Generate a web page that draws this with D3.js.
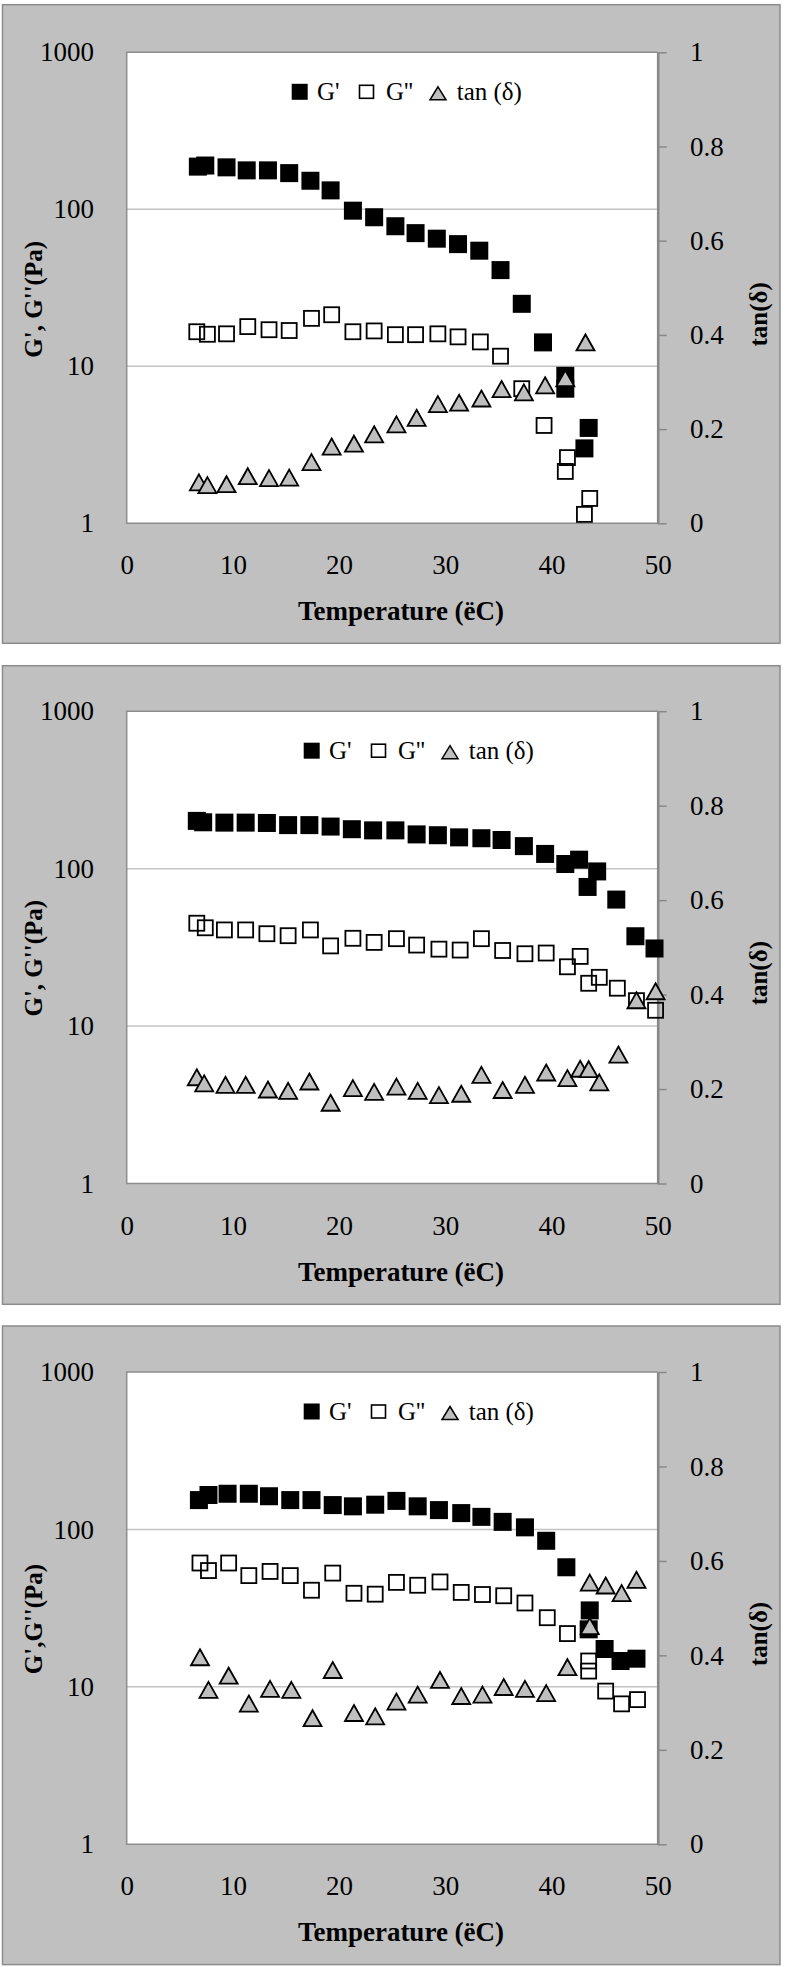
<!DOCTYPE html>
<html>
<head>
<meta charset="utf-8">
<script src="https://cdn.jsdelivr.net/npm/d3@7"></script>
<style>
  html, body { margin: 0; padding: 0; background: #ffffff; }
  svg { display: block; }
  text { font-family: "Liberation Serif", "Times New Roman", serif; fill: #000; }
</style>
</head>
<body>
<svg id="chart" width="786" height="1967"></svg>
<script>
// ---------------- DATA ----------------
const xTicks = [0, 10, 20, 30, 40, 50];
const yLeftTicks = [1, 10, 100, 1000];
const yRightTicks = [0, 0.2, 0.4, 0.6, 0.8, 1];
const legendLabels = ["G'", "G''", "tan (\u03b4)"];
const xTitle = "Temperature (\u00ebC)";
const yLeftTitles = ["G', G''(Pa)", "G', G''(Pa)", "G',G''(Pa)"];
const yRightTitle = "tan(\u03b4)";

// Panel 1
const p1GpT = [6.7, 7.4, 9.4, 11.3, 13.3, 15.3, 17.3, 19.2, 21.3, 23.3, 25.3, 27.2, 29.2, 31.2, 33.2, 35.2, 37.2, 39.2, 41.3, 41.3, 43.1, 43.5];
const p1Gp  = [187, 190, 185, 177, 177, 170, 152, 132, 98, 89, 78, 70.5, 65, 60, 54.5, 41, 25, 14.2, 8.7, 7.2, 3.0, 4.05];
const p1GppT = [6.6, 7.6, 9.4, 11.4, 13.4, 15.3, 17.4, 19.3, 21.3, 23.3, 25.3, 27.2, 29.3, 31.2, 33.3, 35.2, 37.2, 39.3, 41.3, 41.5, 43.1, 43.6];
const p1Gpp  = [16.6, 16.0, 16.1, 17.9, 17.1, 16.9, 20.2, 21.3, 16.6, 16.8, 15.9, 15.9, 16.1, 15.4, 14.3, 11.6, 7.2, 4.2, 2.14, 2.62, 1.14, 1.44];
const p1TanT = [6.8, 7.6, 9.4, 11.4, 13.4, 15.3, 17.4, 19.3, 21.4, 23.3, 25.4, 27.3, 29.3, 31.3, 33.4, 35.3, 37.4, 39.4, 41.3, 43.2];
const p1Tan  = [0.087, 0.081, 0.083, 0.100, 0.096, 0.097, 0.130, 0.163, 0.169, 0.189, 0.210, 0.224, 0.253, 0.256, 0.265, 0.285, 0.278, 0.293, 0.308, 0.384];

// Panel 2
const p2GpT = [6.6, 7.2, 9.2, 11.2, 13.2, 15.2, 17.2, 19.2, 21.2, 23.2, 25.3, 27.3, 29.3, 31.3, 33.4, 35.3, 37.4, 39.4, 41.3, 42.6, 43.4, 44.3, 46.1, 47.9, 49.7];
const p2Gp  = [201, 197, 196, 196, 195, 189, 189, 185, 178, 175, 175, 165, 163, 158, 156, 152, 139, 124, 107, 114, 76.5, 96, 63.6, 37.2, 31.1];
const p2GppT = [6.6, 7.4, 9.2, 11.2, 13.2, 15.2, 17.3, 19.2, 21.3, 23.3, 25.4, 27.3, 29.4, 31.4, 33.4, 35.4, 37.5, 39.5, 41.5, 42.7, 43.5, 44.5, 46.2, 48.0, 49.8];
const p2Gpp  = [45, 42.1, 40.8, 40.8, 38.6, 37.5, 40.8, 32.3, 36.1, 34.0, 35.9, 32.7, 30.8, 30.4, 35.9, 30.2, 28.8, 29.1, 23.8, 27.7, 18.7, 20.4, 17.4, 14.5, 12.6];
const p2TanT = [6.6, 7.3, 9.3, 11.2, 13.3, 15.2, 17.2, 19.2, 21.3, 23.3, 25.4, 27.4, 29.4, 31.5, 33.4, 35.4, 37.5, 39.5, 41.5, 42.7, 43.5, 44.5, 46.3, 48.0, 49.8];
const p2Tan  = [0.225, 0.212, 0.209, 0.209, 0.199, 0.196, 0.216, 0.171, 0.202, 0.194, 0.205, 0.196, 0.187, 0.190, 0.230, 0.198, 0.209, 0.235, 0.223, 0.243, 0.242, 0.214, 0.273, 0.388, 0.407];

// Panel 3
const p3GpT = [6.8, 7.7, 9.5, 11.5, 13.4, 15.4, 17.4, 19.4, 21.3, 23.4, 25.4, 27.4, 29.4, 31.5, 33.4, 35.4, 37.5, 39.5, 41.4, 43.5, 43.6, 45.0, 46.5, 48.0];
const p3Gp  = [153.6, 165.5, 168.5, 168.5, 162.5, 153.6, 153.6, 142.8, 140.2, 143.6, 151.8, 140.2, 132.7, 127, 120.2, 111.7, 103.1, 84.7, 57.5, 23.2, 30.6, 17.4, 14.6, 15.1];
const p3GppT = [6.9, 7.7, 9.6, 11.5, 13.5, 15.4, 17.4, 19.4, 21.4, 23.4, 25.4, 27.4, 29.5, 31.5, 33.5, 35.5, 37.5, 39.6, 41.5, 43.5, 43.5, 45.1, 46.6, 48.1];
const p3Gpp  = [61.2, 54.8, 61.2, 50.9, 54.1, 50.9, 41.1, 52.8, 39.3, 38.8, 46.1, 44.2, 46.4, 39.8, 38.6, 37.9, 34.1, 27.5, 21.8, 14.6, 12.6, 9.4, 7.8, 8.3];
const p3TanT = [6.9, 7.7, 9.6, 11.5, 13.5, 15.5, 17.5, 19.4, 21.4, 23.4, 25.4, 27.4, 29.5, 31.5, 33.5, 35.5, 37.5, 39.5, 41.5, 43.6, 43.6, 45.1, 46.6, 48.0];
const p3Tan  = [0.396, 0.327, 0.357, 0.298, 0.329, 0.327, 0.267, 0.369, 0.278, 0.271, 0.302, 0.317, 0.348, 0.314, 0.317, 0.333, 0.329, 0.320, 0.375, 0.554, 0.462, 0.548, 0.532, 0.560];

// ---------------- LAYOUT ----------------
const panels = [
  {gpT: p1GpT, gp: p1Gp, gppT: p1GppT, gpp: p1Gpp, tanT: p1TanT, tan: p1Tan, yTitle: yLeftTitles[0]},
  {gpT: p2GpT, gp: p2Gp, gppT: p2GppT, gpp: p2Gpp, tanT: p2TanT, tan: p2Tan, yTitle: yLeftTitles[1]},
  {gpT: p3GpT, gp: p3Gp, gppT: p3GppT, gpp: p3Gpp, tanT: p3TanT, tan: p3Tan, yTitle: yLeftTitles[2]}
];
const boxTops = [4.7, 665.7, 1326];
const boxH = 638.6;
const plotTops = [52.3, 711.2, 1372];
const plotBottoms = [523.3, 1183.5, 1844.3];
const legendDx = [0, 12, 12];
const plotL = 126.7, plotR = 657.7;

const svg = d3.select("#chart");
const fontTick = 27;

panels.forEach((p, i) => {
  const g = svg.append("g");
  const top = plotTops[i], bottom = plotBottoms[i];

  // outer box
  g.append("rect")
    .attr("x", 2.5).attr("y", boxTops[i])
    .attr("width", 777.5).attr("height", boxH)
    .attr("fill", "#c0c0c0").attr("stroke", "#8c8c8c").attr("stroke-width", 1.5);

  // plot area
  g.append("rect")
    .attr("x", plotL).attr("y", top)
    .attr("width", plotR - plotL).attr("height", bottom - top)
    .attr("fill", "#ffffff");

  const x = d3.scaleLinear().domain([0, 50]).range([plotL, plotR]);
  const yL = d3.scaleLog().domain([1, 1000]).range([bottom, top]);
  const yR = d3.scaleLinear().domain([0, 1]).range([bottom, top]);

  // gridlines
  g.append("g").selectAll("line")
    .data(yLeftTicks.filter(v => v > 1 && v < 1000))
    .join("line")
    .attr("x1", plotL).attr("x2", plotR)
    .attr("y1", d => yL(d)).attr("y2", d => yL(d))
    .attr("stroke", "#c4c4c4").attr("stroke-width", 1.5);

  // plot borders (left, top, bottom)
  g.append("path")
    .attr("d", `M${plotR},${top}H${plotL}V${bottom}H${plotR}`)
    .attr("fill", "none").attr("stroke", "#8c8c8c").attr("stroke-width", 1.5);

  // left axis
  const la = g.append("g").attr("transform", `translate(${plotL},0)`)
    .call(d3.axisLeft(yL).tickValues(yLeftTicks).tickSize(0).tickPadding(32.7)
      .tickFormat(d3.format("d")));
  la.select(".domain").remove();
  la.selectAll("text").attr("font-size", fontTick)
    .style("font-family", '"Liberation Serif", serif').attr("fill", "#000");

  // right axis
  const ra = g.append("g").attr("transform", `translate(${plotR},0)`)
    .call(d3.axisRight(yR).tickValues(yRightTicks).tickSizeInner(9).tickSizeOuter(0).tickPadding(23.3)
      .tickFormat(d => String(+d.toFixed(1))));
  ra.select(".domain").attr("stroke", "#888888").attr("stroke-width", 2.6);
  ra.selectAll(".tick line").attr("stroke", "#888888").attr("stroke-width", 1.5);
  ra.selectAll("text").attr("font-size", fontTick)
    .style("font-family", '"Liberation Serif", serif').attr("fill", "#000");

  // bottom axis
  const ba = g.append("g").attr("transform", `translate(0,${bottom})`)
    .call(d3.axisBottom(x).tickValues(xTicks).tickSize(0).tickPadding(32));
  ba.select(".domain").remove();
  ba.selectAll("text").attr("font-size", fontTick)
    .style("font-family", '"Liberation Serif", serif').attr("fill", "#000");

  // axis titles
  g.append("text")
    .attr("x", 401).attr("y", bottom + 97)
    .attr("text-anchor", "middle").attr("font-size", 27).attr("font-weight", "bold")
    .text(xTitle);
  g.append("text")
    .attr("transform", `translate(42,${top + 247}) rotate(-90)`)
    .attr("text-anchor", "middle").attr("font-size", 25).attr("font-weight", "bold")
    .text(p.yTitle);
  g.append("text")
    .attr("transform", `translate(767,${top + 262}) rotate(-90)`)
    .attr("text-anchor", "middle").attr("font-size", 25).attr("font-weight", "bold")
    .text(yRightTitle);

  // markers
  const tri = (cx, cy, w, h) => `M${cx},${cy - h / 2}L${cx + w / 2},${cy + h / 2}L${cx - w / 2},${cy + h / 2}Z`;

  const gpData = p.gp.map((v, k) => ({t: p.gpT[k], v}));
  const gppData = p.gpp.map((v, k) => ({t: p.gppT[k], v}));
  const tanData = p.tan.map((v, k) => ({t: p.tanT[k], v}));

  g.append("g").selectAll("rect").data(gpData).join("rect")
    .attr("x", d => x(d.t) - 9).attr("y", d => yL(d.v) - 9)
    .attr("width", 18).attr("height", 18).attr("fill", "#000");

  g.append("g").selectAll("rect").data(gppData).join("rect")
    .attr("x", d => x(d.t) - 7.5).attr("y", d => yL(d.v) - 7.5)
    .attr("width", 15).attr("height", 15)
    .attr("fill", "none").attr("stroke", "#000").attr("stroke-width", 1.8);

  g.append("g").selectAll("path").data(tanData).join("path")
    .attr("d", d => tri(x(d.t), yR(d.v), 18, 16))
    .attr("fill", "#bfbfbf").attr("stroke", "#000").attr("stroke-width", 1.8)
    .attr("stroke-linejoin", "miter");

  // legend
  const lx = legendDx[i];
  const ly = top + 39.5;
  const lg = g.append("g");
  lg.append("rect").attr("x", 291.7 + lx).attr("y", ly - 8).attr("width", 16).attr("height", 16).attr("fill", "#000");
  lg.append("text").attr("x", 317 + lx).attr("y", ly + 8).attr("font-size", 25).text(legendLabels[0]);
  lg.append("rect").attr("x", 359.5 + lx).attr("y", ly - 6.5).attr("width", 14).attr("height", 13)
    .attr("fill", "none").attr("stroke", "#000").attr("stroke-width", 1.6);
  lg.append("text").attr("x", 386 + lx).attr("y", ly + 8).attr("font-size", 25).text(legendLabels[1]);
  lg.append("path").attr("d", tri(438 + lx, ly + 1.5, 16, 13))
    .attr("fill", "#bfbfbf").attr("stroke", "#000").attr("stroke-width", 1.5);
  lg.append("text").attr("x", 456.7 + lx).attr("y", ly + 8).attr("font-size", 25).text(legendLabels[2]);
});
</script>
</body>
</html>
